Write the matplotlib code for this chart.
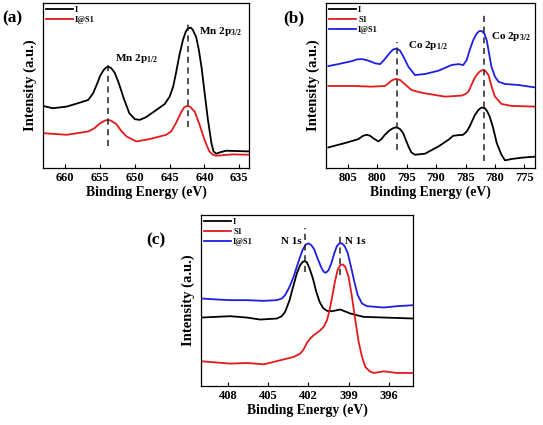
import matplotlib
matplotlib.use("Agg")
import matplotlib.pyplot as plt

plt.rcParams['font.family'] = ['Liberation Serif', 'DejaVu Serif']
plt.rcParams['font.weight'] = 'bold'
plt.rcParams['mathtext.fontset'] = 'custom'
plt.rcParams['mathtext.rm'] = 'Liberation Serif:bold'
plt.rcParams['mathtext.bf'] = 'Liberation Serif:bold'
plt.rcParams['mathtext.it'] = 'Liberation Serif:bold'

# ---------------- Panel (a): Mn 2p ----------------
a_I_E = [663.2, 661.8, 659.8, 658.2, 656.7, 656.0, 655.4, 655.0, 654.5, 654.1, 653.8, 653.4,
         652.9, 652.3, 651.6, 650.8, 650.0, 649.3, 648.4, 646.9, 645.7, 645.0, 644.5, 644.1,
         643.6, 643.1, 642.7, 642.4, 642.0, 641.7, 641.2, 640.8, 640.4, 640.0, 639.5, 639.0,
         638.7, 638.3, 637.8, 636.9, 633.6]
a_I_y = [187, 180, 185, 195, 205, 225, 255, 277, 295, 303, 305, 301,
         287, 255, 210, 165, 147, 145, 153, 175, 193, 215, 245, 285,
         340, 385, 410, 420, 423, 417, 395, 355, 300, 230, 145, 75,
         50, 43, 47, 52, 50]
a_IS_E = [663.2, 659.8, 656.7, 655.8, 655.1, 654.3, 653.8, 653.4, 652.7, 652.0, 651.2, 649.8,
          647.9, 645.5, 644.8, 644.1, 643.3, 642.9, 642.5, 642.1, 641.4, 640.7, 640.0, 639.3,
          638.8, 638.3, 635.9, 633.6]
a_IS_y = [105, 100, 110, 120, 133, 143, 145, 142, 133, 113, 95, 80,
          87, 100, 110, 135, 170, 183, 187, 185, 170, 130, 85, 50,
          40, 37, 41, 40]
a_xticks = [660, 655, 650, 645, 640, 635]
a_peaks = [653.87, 642.4]
a_peak_lo = [65, 125]
a_peak_hi = [320, 445]

# ---------------- Panel (b): Co 2p ----------------
b_IS_E = [808.3, 806.6, 804.3, 803.5, 802.6, 801.8, 801.0, 800.3, 799.5, 799.0, 798.4, 797.8,
          797.3, 796.7, 796.1, 795.6, 794.7, 793.6, 791.9, 789.6, 787.4, 786.2, 785.4, 784.8,
          784.3, 783.7, 783.1, 782.7, 782.3, 781.8, 781.4, 781.0, 780.6, 780.0, 779.4, 778.3,
          776.0, 773.3]
b_IS_y = [307, 313, 322, 327, 328, 325, 320, 315, 313, 322, 335, 348,
          357, 360, 353, 337, 305, 280, 283, 293, 310, 313, 310, 325,
          355, 385, 405, 412, 413, 405, 385, 345, 305, 275, 260, 253,
          250, 243]
b_S_E = [808.3, 803.8, 801.0, 798.7, 798.1, 797.6, 797.1, 796.7, 796.1, 795.6, 794.7, 794.2,
         793.0, 791.9, 788.5, 785.7, 785.1, 784.5, 784.0, 783.4, 782.8, 782.4, 782.0, 781.6,
         781.1, 780.6, 780.0, 778.9, 777.2, 773.3]
b_S_y = [247, 247, 245, 247, 255, 263, 267, 268, 265, 257, 243, 235,
         229, 225, 215, 218, 222, 230, 250, 273, 287, 293, 295, 292,
         280, 247, 215, 193, 187, 185]
b_I_E = [808.3, 805.5, 803.2, 802.4, 801.8, 801.2, 800.7, 799.8, 799.3, 798.7, 798.0, 797.3,
         796.7, 796.1, 795.6, 794.7, 794.2, 793.6, 791.9, 789.6, 787.9, 787.1, 786.2, 785.4,
         784.8, 784.3, 783.4, 782.8, 782.3, 781.7, 781.3, 780.9, 780.3, 779.7, 778.9, 778.3,
         777.2, 775.5, 773.3]
b_I_y = [62, 75, 87, 97, 100, 97, 90, 80, 87, 100, 112, 120,
         123, 117, 105, 65, 47, 40, 43, 65, 85, 97, 99, 100,
         110, 125, 160, 175, 182, 180, 170, 155, 120, 75, 40, 23,
         27, 31, 34]
b_xticks = [805, 800, 795, 790, 785, 780, 775]
b_peaks = [796.7, 781.8]
b_peak_lo = [55, 20]
b_peak_hi = [380, 465]

# ---------------- Panel (c): N 1s ----------------
c_IS_E = [409.95, 408.83, 407.83, 406.59, 405.34, 404.35, 403.98, 403.73, 403.40, 403.10,
          402.86, 402.61, 402.41, 402.18, 401.98, 401.78, 401.56, 401.31, 401.06, 400.86,
          400.69, 400.49, 400.29, 400.07, 399.87, 399.69, 399.49, 399.30, 399.07, 398.82,
          398.57, 398.32, 398.00, 397.63, 396.38, 395.39, 394.14]
c_IS_y = [262, 259, 257, 257, 255, 257, 262, 272, 297, 327,
          357, 387, 409, 424, 427, 422, 409, 382, 357, 342,
          339, 347, 367, 397, 419, 427, 427, 419, 399, 357,
          312, 272, 247, 239, 235, 239, 242]
c_I_E = [409.95, 407.83, 406.59, 405.59, 404.35, 403.98, 403.73, 403.40, 403.10, 402.86,
         402.61, 402.41, 402.26, 402.11, 401.91, 401.66, 401.41, 401.16, 400.91, 400.61,
         400.24, 399.62, 398.87, 397.88, 396.38, 394.14]
c_I_y = [205, 209, 205, 199, 202, 209, 222, 257, 302, 337,
         362, 372, 374, 370, 352, 322, 282, 252, 234, 225,
         224, 229, 217, 207, 205, 202]
c_S_E = [409.95, 407.83, 406.59, 405.34, 405.10, 404.10, 403.10, 402.61, 402.36, 402.11,
         401.86, 401.61, 401.36, 401.11, 400.86, 400.61, 400.42, 400.22, 400.02, 399.82,
         399.62, 399.44, 399.25, 399.00, 398.75, 398.50, 398.25, 398.00, 397.75, 397.43,
         397.13, 396.38, 395.39, 394.14]
c_S_y = [74, 67, 69, 65, 67, 77, 87, 97, 109, 129,
         142, 152, 159, 167, 177, 197, 227, 267, 312, 347,
         362, 364, 357, 327, 267, 197, 132, 87, 57, 44,
         39, 44, 39, 39]
c_xticks = [408, 405, 402, 399, 396]
c_peaks = [402.28, 399.62]
c_peak_lo = [342, 332]
c_peak_hi = [472, 462]

W, H = 543, 425
fig = plt.figure(figsize=(W / 100, H / 100), dpi=100)


def make_ax(l, t, r, b):
    return fig.add_axes([l / W, 1 - b / H, (r - l) / W, (b - t) / H])


def style(ax, xlim, ylim, xticks):
    ax.set_xlim(*xlim)
    ax.set_ylim(*ylim)
    ax.set_xticks(xticks)
    ax.set_xticklabels([str(t) for t in xticks])
    ax.set_yticks([])
    ax.tick_params(axis='x', direction='in', length=3, width=0.8, labelsize=9, pad=3)
    for lab in ax.get_xticklabels():
        lab.set_fontweight('bold')
    for s in ax.spines.values():
        s.set_linewidth(0.9)
    ax.set_xlabel('Binding Energy (eV)', fontsize=9.8, fontweight='bold', labelpad=1)
    ax.set_ylabel('Intensity (a.u.)', fontsize=10.5, fontweight='bold', labelpad=4)


def leg(ax):
    ax.legend(loc='upper left', frameon=False, handlelength=3.2,
              borderaxespad=0.15, labelspacing=0.25, handletextpad=0.3,
              borderpad=0.2, prop={'weight': 'bold', 'size': 6})


lw = 1.3
dash = dict(color='#222222', lw=1.1, ls=(0, (4, 3)))

# (a)
axa = make_ax(43, 3, 249, 168)
axa.plot(a_I_E, a_I_y, color='black', lw=lw, label='I')
axa.plot(a_IS_E, a_IS_y, color='#e31a1c', lw=lw, label='I@S1')
for p, lo, hi in zip(a_peaks, a_peak_lo, a_peak_hi):
    axa.plot([p, p], [lo, hi], **dash)
style(axa, (663.2, 633.6), (0, 497), a_xticks)
leg(axa)
axa.text(652.8, 330, r'Mn 2p$_{\mathregular{1/2}}$', fontsize=8, fontweight='bold', va='center')
axa.text(640.8, 410, r'Mn 2p$_{\mathregular{3/2}}$', fontsize=8, fontweight='bold', va='center')

# (b)
axb = make_ax(326, 3, 535, 168)
axb.plot(b_I_E, b_I_y, color='black', lw=lw, label='I')
axb.plot(b_S_E, b_S_y, color='#e31a1c', lw=lw, label='S1')
axb.plot(b_IS_E, b_IS_y, color='#1f1fe0', lw=lw, label='I@S1')
for p, lo, hi in zip(b_peaks, b_peak_lo, b_peak_hi):
    axb.plot([p, p], [lo, hi], **dash)
style(axb, (808.7, 773.2), (0, 497), b_xticks)
leg(axb)
axb.text(794.7, 370, r'Co 2p$_{\mathregular{1/2}}$', fontsize=8, fontweight='bold', va='center')
axb.text(780.7, 395, r'Co 2p$_{\mathregular{3/2}}$', fontsize=8, fontweight='bold', va='center')

# (c)
axc = make_ax(201, 215, 413, 386)
axc.plot(c_I_E, c_I_y, color='black', lw=lw, label='I')
axc.plot(c_S_E, c_S_y, color='#e31a1c', lw=lw, label='S1')
axc.plot(c_IS_E, c_IS_y, color='#1f1fe0', lw=lw, label='I@S1')
for p, lo, hi in zip(c_peaks, c_peak_lo, c_peak_hi):
    axc.plot([p, p], [lo, hi], **dash)
style(axc, (410.0, 394.2), (0, 512), c_xticks)
leg(axc)
axc.text(402.48, 432, 'N 1s', fontsize=8, fontweight='bold', va='center', ha='right')
axc.text(399.25, 432, 'N 1s', fontsize=8, fontweight='bold', va='center', ha='left')

fig.text(2 / W, 1 - 18 / H, '(a)', fontsize=12.5, fontweight='bold', va='center')
fig.text(283 / W, 1 - 18 / H, '(b)', fontsize=12.5, fontweight='bold', va='center')
fig.text(146 / W, 1 - 240 / H, '(c)', fontsize=12.5, fontweight='bold', va='center')

fig.savefig('out.png', dpi=100)
